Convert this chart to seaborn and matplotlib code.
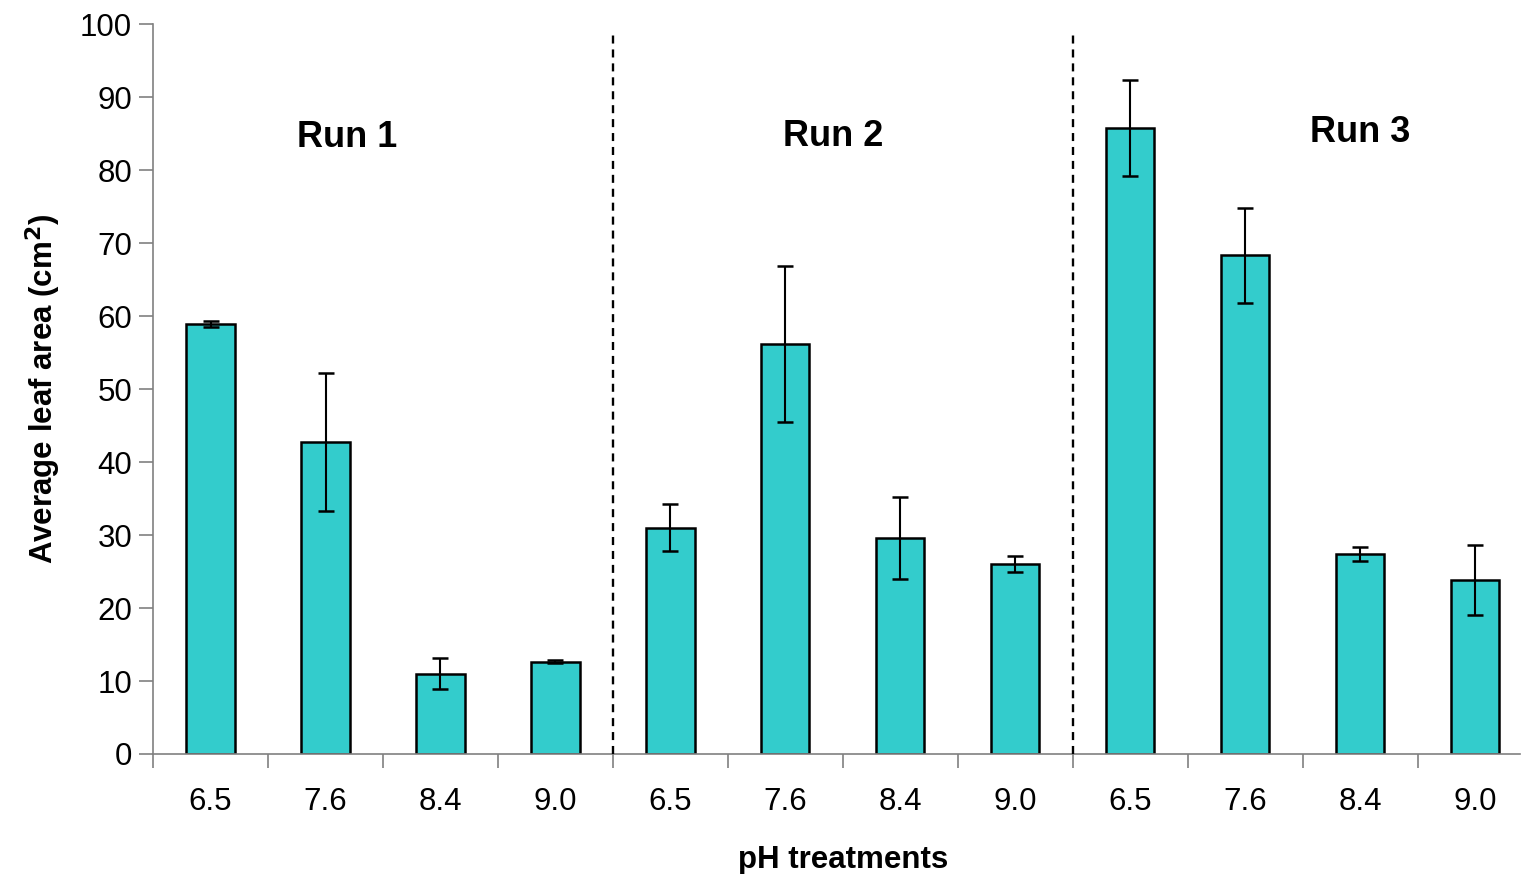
import matplotlib
matplotlib.use("Agg")
import matplotlib.pyplot as plt
import seaborn as sns
import pandas as pd
import numpy as np

runs = ["Run 1", "Run 2", "Run 3"]
ph_labels = ["6.5", "7.6", "8.4", "9.0"]
run1_mean = [58.9, 42.7, 11.0, 12.65]
run2_mean = [31.0, 56.2, 29.6, 26.05]
run3_mean = [85.8, 68.3, 27.4, 23.8]
run1_err = [0.45, 9.45, 2.1, 0.25]
run2_err = [3.25, 10.7, 5.6, 1.05]
run3_err = [6.6, 6.55, 0.95, 4.8]

means = run1_mean + run2_mean + run3_mean
errs = run1_err + run2_err + run3_err
keys = [f"{r}|{p}" for r in runs for p in ph_labels]
df = pd.DataFrame({"key": keys, "mean": means, "err": errs})

sns.set_theme(style="white")
plt.rcParams["font.family"] = ["Liberation Sans", "DejaVu Sans"]
plt.rcParams["text.color"] = "black"
plt.rcParams["axes.labelcolor"] = "black"
plt.rcParams["xtick.color"] = "black"
plt.rcParams["ytick.color"] = "black"

fig = plt.figure(figsize=(15.23, 8.74), dpi=100)
ax = fig.add_axes([0.1005, 0.1373, 0.8975, 0.8352])

sns.barplot(data=df, x="key", y="mean", order=keys, color="#33CCCC",
            saturation=1, width=0.42, edgecolor="black", linewidth=1.8,
            errorbar=None, ax=ax)
xpos = np.arange(len(keys))
ax.errorbar(xpos, df["mean"], yerr=df["err"], fmt="none", ecolor="black",
            elinewidth=1.5, capsize=5.5, capthick=1.8, zorder=5)

ax.set_xlim(-0.5, 11.39)
ax.set_ylim(0, 100)
ax.set_yticks(np.arange(0, 101, 10))
ax.tick_params(axis="y", labelsize=22.5, length=10, width=1.2, color="#808080",
               labelcolor="black", left=True, pad=5)

ax.set_xticks(np.arange(-0.5, 11.4, 1.0))
ax.set_xticklabels([])
ax.tick_params(axis="x", which="major", length=10, width=1.2, color="#808080",
               bottom=True, direction="out")
ax.set_xticks(xpos, minor=True)
ax.set_xticklabels(ph_labels * len(runs), minor=True)
ax.tick_params(axis="x", which="minor", length=0, labelsize=22.5, pad=24,
               labelcolor="black")

for s in ["top", "right"]:
    ax.spines[s].set_visible(False)
for s in ["left", "bottom"]:
    ax.spines[s].set_color("#808080")
    ax.spines[s].set_linewidth(1.2)

ax.vlines([3.5, 7.5], 0, 99.2, colors="black", linestyles=(0, (3.4, 2.5)),
          linewidth=1.7, zorder=4)

label_pos = [(1.19, 84.5), (5.42, 84.6), (10.0, 85.1)]
for r, (x, y) in zip(runs, label_pos):
    ax.text(x, y, r, ha="center", va="center", fontsize=26, fontweight="bold",
            color="black")

ax.set_xlabel("pH treatments", fontsize=22.5, fontweight="bold", labelpad=20,
              color="black")
ax.xaxis.label.set_x(0.505)
ax.set_ylabel("Average leaf area (cm$^\\mathbf{2}$)", fontsize=22.5,
              fontweight="bold", labelpad=12, color="black")

fig.savefig("out.png", dpi=100, facecolor="white")
